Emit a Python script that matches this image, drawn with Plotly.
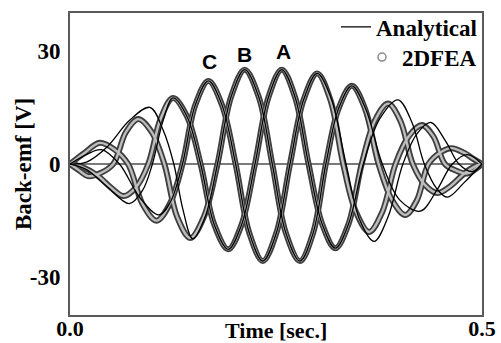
import plotly.graph_objects as go

# ---------------- data ----------------
# 2D FEA, phase A
t_fea_a = [0.0, 0.015, 0.033, 0.05, 0.065, 0.080, 0.095, 0.110, 0.125, 0.142, 0.1585, 0.175, 0.192,
           0.208, 0.2245, 0.241, 0.257, 0.273, 0.2895, 0.306, 0.322, 0.338, 0.354, 0.370, 0.386,
           0.401, 0.416, 0.431, 0.446, 0.462, 0.478, 0.49, 0.5]
v_fea_a = [0.0, -0.8, -3.0, -6.3, -8.5, -6.2, 0.0, 12.0, 17.5, 12.6, 0.0, -16.0, -22.6,
           -16.2, 0.0, 17.8, 25.0, 17.8, 0.0, -15.9, -22.3, -15.9, 0.0, 11.5, 16.0,
           11.4, 0.0, -5.6, -7.7, -5.8, -2.6, -0.8, 0.0]
# 2D FEA, phase B
t_fea_b = [0.0, 0.01, 0.022, 0.037, 0.0525, 0.068, 0.083, 0.099, 0.1145, 0.130, 0.146, 0.1625, 0.179,
           0.1955, 0.212, 0.229, 0.2455, 0.262, 0.279, 0.295, 0.3105, 0.326, 0.342, 0.358, 0.3745,
           0.391, 0.407, 0.421, 0.435, 0.449, 0.463, 0.478, 0.49, 0.5]
v_fea_b = [0.0, -1.5, -3.2, -2.4, 0.0, 8.5, 11.9, 8.5, 0.0, -14.0, -19.6, -14.0, 0.0,
           17.8, 25.0, 17.8, 0.0, -18.3, -25.7, -18.3, 0.0, 14.7, 20.7, 14.7, 0.0,
           -9.6, -13.5, -9.6, 0.0, 3.0, 4.2, 3.0, 1.3, 0.0]
# 2D FEA, phase C
t_fea_c = [0.0, 0.018, 0.036, 0.053, 0.0705, 0.088, 0.105, 0.121, 0.1365, 0.152, 0.168, 0.1845, 0.201,
           0.2175, 0.234, 0.2505, 0.267, 0.2835, 0.300, 0.316, 0.3315, 0.347, 0.363, 0.379, 0.395,
           0.411, 0.427, 0.441, 0.455, 0.469, 0.482, 0.5]
v_fea_c = [0.0, 3.0, 5.6, 4.0, 0.0, -10.6, -15.0, -10.6, 0.0, 15.6, 22.0, 15.6, 0.0,
           -18.2, -25.7, -18.2, 0.0, 17.0, 24.0, 17.0, 0.0, -12.7, -18.0, -12.7, 0.0,
           7.3, 10.3, 7.3, 0.0, -1.8, -2.5, 0.0]

# Analytical, phase A
t_ana_a = [0.0, 0.02, 0.045, 0.072, 0.088, 0.100, 0.113, 0.125, 0.142, 0.1585, 0.175, 0.192,
           0.208, 0.2245, 0.241, 0.257, 0.273, 0.2895, 0.306, 0.322, 0.338, 0.356, 0.376, 0.398,
           0.415, 0.430, 0.445, 0.458, 0.478, 0.5]
v_ana_a = [0.0, -1.5, -6.0, -10.5, -7.0, 0.0, 11.5, 17.5, 12.6, 0.0, -16.0, -22.6,
           -16.2, 0.0, 17.8, 25.0, 17.8, 0.0, -15.9, -22.3, -15.9, 0.0, 12.0, 17.0,
           11.0, 0.0, -6.5, -8.8, -5.0, 0.0]
# Analytical, phase B
t_ana_b = [0.0, 0.02, 0.045, 0.072, 0.097, 0.113, 0.126, 0.137, 0.149, 0.1640, 0.179,
           0.1955, 0.212, 0.229, 0.2455, 0.262, 0.279, 0.295, 0.3105, 0.326, 0.342, 0.359, 0.379,
           0.400, 0.425, 0.445, 0.464, 0.482, 0.5]
v_ana_b = [0.0, 0.5, 4.5, 11.5, 15.0, 9.0, 0.0, -12.0, -19.8, -14.0, 0.0,
           17.8, 25.0, 17.8, 0.0, -18.3, -25.7, -18.3, 0.0, 14.7, 20.7, 14.5, 0.0,
           -9.5, -12.5, -7.0, 0.0, 2.5, 0.0]
# Analytical, phase C
t_ana_c = [0.0, 0.02, 0.038, 0.060, 0.085, 0.108, 0.122, 0.1365, 0.152, 0.168, 0.1845, 0.201,
           0.2175, 0.234, 0.2505, 0.267, 0.2835, 0.300, 0.317, 0.335, 0.352, 0.369, 0.386, 0.404,
           0.421, 0.438, 0.456, 0.472, 0.488, 0.5]
v_ana_c = [0.0, 2.5, 3.8, 0.0, -9.0, -13.5, -10.0, 0.0, 15.6, 22.0, 15.6, 0.0,
           -18.2, -25.7, -18.2, 0.0, 17.0, 24.0, 17.3, 0.0, -15.0, -20.5, -14.0, 0.0,
           8.0, 11.0, 6.0, 0.0, -2.0, 0.0]

phase_labels = ["C", "B", "A"]
phase_label_t = [0.1687, 0.2123, 0.2597]
phase_label_v = [27.1, 28.9, 29.7]

x_tick_vals = [0.0, 0.5]
x_tick_text = ["0.0", "0.5"]
y_tick_vals = [-30, 0, 30]
y_tick_text = ["-30", "0", "30"]

# ---------------- figure ----------------
SERIF = "Liberation Serif, Times New Roman, serif"
SANS = "Liberation Sans, Arial, sans-serif"
BIG = dict(family=SERIF, size=23, color="black", weight="bold")
BOTTOM = dict(family=SERIF, size=22, color="black", weight="bold")

fig = go.Figure()

fea_sets = [(t_fea_a, v_fea_a), (t_fea_b, v_fea_b), (t_fea_c, v_fea_c)]
# FEA circles drawn as a hollow band (dark rim, light core)
for tt, vv in fea_sets:
    fig.add_trace(go.Scatter(x=tt, y=vv, mode="lines",
                             line=dict(color="#3e3e3e", width=6.0, shape="spline", smoothing=1.0),
                             showlegend=False, hoverinfo="skip"))
for tt, vv in fea_sets:
    fig.add_trace(go.Scatter(x=tt, y=vv, mode="lines",
                             line=dict(color="#bdbdbd", width=2.4, shape="spline", smoothing=1.0),
                             showlegend=False, hoverinfo="skip"))

ana_sets = [(t_ana_a, v_ana_a), (t_ana_b, v_ana_b), (t_ana_c, v_ana_c)]
for i, (tt, vv) in enumerate(ana_sets):
    fig.add_trace(go.Scatter(x=tt, y=vv, mode="lines", name="Analytical",
                             line=dict(color="black", width=1.3, shape="spline", smoothing=1.0),
                             showlegend=(i == 0), legend="legend"))

# legend entry for the FEA circles
fig.add_trace(go.Scatter(x=[None], y=[None], mode="markers", name="2DFEA",
                         marker=dict(symbol="circle-open", size=8, color="#8a8a8a",
                                     line=dict(width=1.5, color="#8a8a8a")),
                         legend="legend2"))

for lab, lt, lv in zip(phase_labels, phase_label_t, phase_label_v):
    fig.add_annotation(x=lt, y=lv, text=lab, showarrow=False,
                       font=dict(family=SANS, size=21, color="black", weight="bold"))

# axis titles
fig.add_annotation(x=0.5, y=-0.05, xref="paper", yref="paper", text="Time [sec.]",
                   showarrow=False, yanchor="middle", font=BOTTOM)
fig.add_annotation(x=-0.114, y=0.5, xref="paper", yref="paper", text="Back-emf [V]",
                   showarrow=False, xanchor="center", yanchor="middle", textangle=-90, font=BIG)

fig.update_layout(
    width=501, height=343,
    margin=dict(l=70, r=19, t=13, b=28, autoexpand=False),
    paper_bgcolor="white", plot_bgcolor="white",
    showlegend=True,
    legend=dict(x=1.0, y=0.954, xanchor="right", yanchor="middle",
                bgcolor="rgba(0,0,0,0)", borderwidth=0, font=BIG, itemwidth=30),
    legend2=dict(x=1.0, y=0.854, xanchor="right", yanchor="middle",
                 bgcolor="rgba(0,0,0,0)", borderwidth=0, font=BIG, itemwidth=30),
    xaxis=dict(range=[0, 0.5], tickvals=x_tick_vals, ticktext=x_tick_text,
               showgrid=False, zeroline=False, ticks="", automargin=False,
               showline=True, mirror=True, linecolor="#5a5a5a", linewidth=2,
               tickfont=BOTTOM, ticklabelstandoff=-7),
    yaxis=dict(range=[-40, 40], tickvals=y_tick_vals, ticktext=y_tick_text,
               showgrid=False, zeroline=True, zerolinecolor="#7a7a7a", zerolinewidth=2,
               ticks="", showline=True, mirror=True, linecolor="#5a5a5a", linewidth=2,
               automargin=False, tickfont=BIG, ticklabelstandoff=3),
)

fig.write_html("out.html",
               config={"displayModeBar": False},
               post_script="document.body.style.margin='0px';"
                           "document.body.style.overflow='hidden';")
